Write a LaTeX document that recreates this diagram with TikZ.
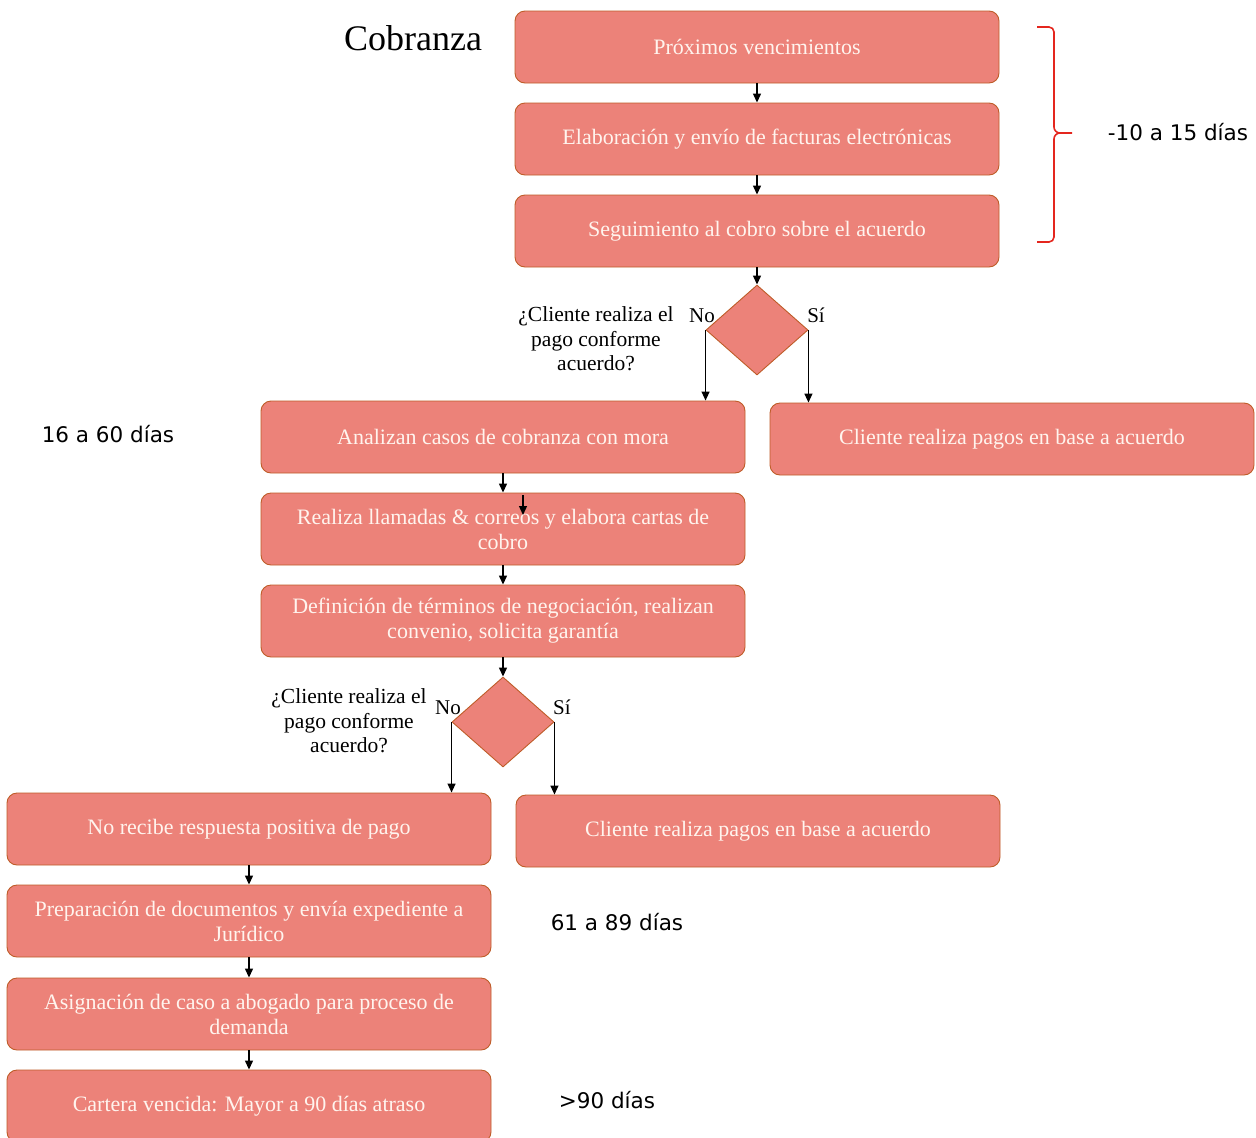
\documentclass[tikz,border=0pt]{standalone}
\usepackage{fontspec}
\setmainfont{Liberation Serif}
\newfontfamily\daysfont{DejaVu Sans}
\usetikzlibrary{shapes.geometric,arrows.meta}
\definecolor{boxfill}{RGB}{236,130,121}
\definecolor{boxline}{RGB}{190,92,40}
\definecolor{boxtext}{RGB}{255,244,238}
\definecolor{bracered}{RGB}{228,38,30}
\begin{document}
\begin{tikzpicture}[
  x=1pt, y=-1pt,
  every node/.style={align=center},
  box/.style={draw=boxline, line width=0.9pt, fill=boxfill, rounded corners=10pt, minimum width=484pt,
    minimum height=72pt, inner sep=2pt, text=boxtext, font=\fontsize{22}{25}\selectfont},
  decision/.style={draw=boxline, line width=0.9pt, fill=boxfill, diamond, minimum width=102pt,
    minimum height=90pt, inner sep=0pt},
  question/.style={font=\fontsize{21.5}{24.5}\selectfont},
  answer/.style={font=\fontsize{21}{24}\selectfont},
  days/.style={font=\daysfont\fontsize{21.5}{24}\selectfont},
  arr/.style={-{Triangle[length=9pt,width=8pt]}, line width=1.3pt},
  bracket/.style={bracered, line width=1.6pt}
]
\useasboundingbox (0,0) rectangle (1256,1138);
\clip (0,0) rectangle (1256,1138);
\node (title) at (413,38) {\fontsize{36}{40}\selectfont Cobranza};
\node[box] (venc) at (757,47) {Próximos vencimientos};
\node[box] (fact) at (757,139) {Elaboración y envío de facturas electrónicas};
\node[box] (segui) at (757,231) {Seguimiento al cobro sobre el acuerdo};
\draw[arr] (venc) -- (fact);
\draw[arr] (fact) -- (segui);
\draw[bracket] (1037,27) -- (1049,27) to[out=0,in=90] (1054,32) -- (1054,127)
  to[out=-90,in=180] (1060,133) -- (1072,133);
\draw[bracket] (1060,133) to[out=180,in=90] (1054,139) -- (1054,237)
  to[out=-90,in=0] (1049,242) -- (1037,242);
\node[days] (dias1) at (1178,132) {-10 a 15 días};
\node[decision] (pago1) at (757,330) {};
\draw[arr] (segui) -- (pago1);
\node[question] (preg1) at (596,339) {¿Cliente realiza el\\pago conforme\\acuerdo?};
\node[answer] (no1) at (702,316) {No};
\node[answer] (si1) at (816,315) {Sí};
\node[box] (mora) at (503,437) {Analizan casos de cobranza con mora};
\node[box] (pagos1) at (1012,439) {Cliente realiza pagos en base a acuerdo};
\draw[arr] (pago1.west) -- (pago1.west |- mora.north);
\draw[arr] (pago1.east) -- (pago1.east |- pagos1.north);
\node[days] (dias2) at (108,434) {16 a 60 días};
\node[box] (llamadas) at (503,529) {Realiza llamadas \& correos y elabora cartas de\\cobro};
\draw[arr] (mora) -- (llamadas);
\coordinate (extraA) at (523,495);
\coordinate (extraB) at (523,515);
\draw[arr] (extraA) -- (extraB);
\node[box] (negoc) at (503,621) {Definición de términos de negociación, realizan\\convenio, solicita garantía};
\draw[arr] (llamadas) -- (negoc);
\node[decision] (pago2) at (503,722) {};
\draw[arr] (negoc) -- (pago2);
\node[question] (preg2) at (349,721) {¿Cliente realiza el\\pago conforme\\acuerdo?};
\node[answer] (no2) at (448,708) {No};
\node[answer] (si2) at (562,707) {Sí};
\node[box] (norecibe) at (249,829) {No recibe respuesta positiva de pago};
\node[box] (pagos2) at (758,831) {Cliente realiza pagos en base a acuerdo};
\draw[arr] (pago2.west) -- (pago2.west |- norecibe.north);
\draw[arr] (pago2.east) -- (pago2.east |- pagos2.north);
\node[box] (juridico) at (249,921) {Preparación de documentos y envía expediente a\\Jurídico};
\draw[arr] (norecibe) -- (juridico);
\node[days] (dias3) at (617,922) {61 a 89 días};
\node[box] (abogado) at (249,1014) {Asignación de caso a abogado para proceso de\\demanda};
\draw[arr] (juridico) -- (abogado);
\node[box] (cartera) at (249,1106) {Cartera vencida: Mayor a 90 días atraso};
\draw[arr] (abogado) -- (cartera);
\node[days] (dias4) at (607,1100) {>90 días};
\end{tikzpicture}
\end{document}
